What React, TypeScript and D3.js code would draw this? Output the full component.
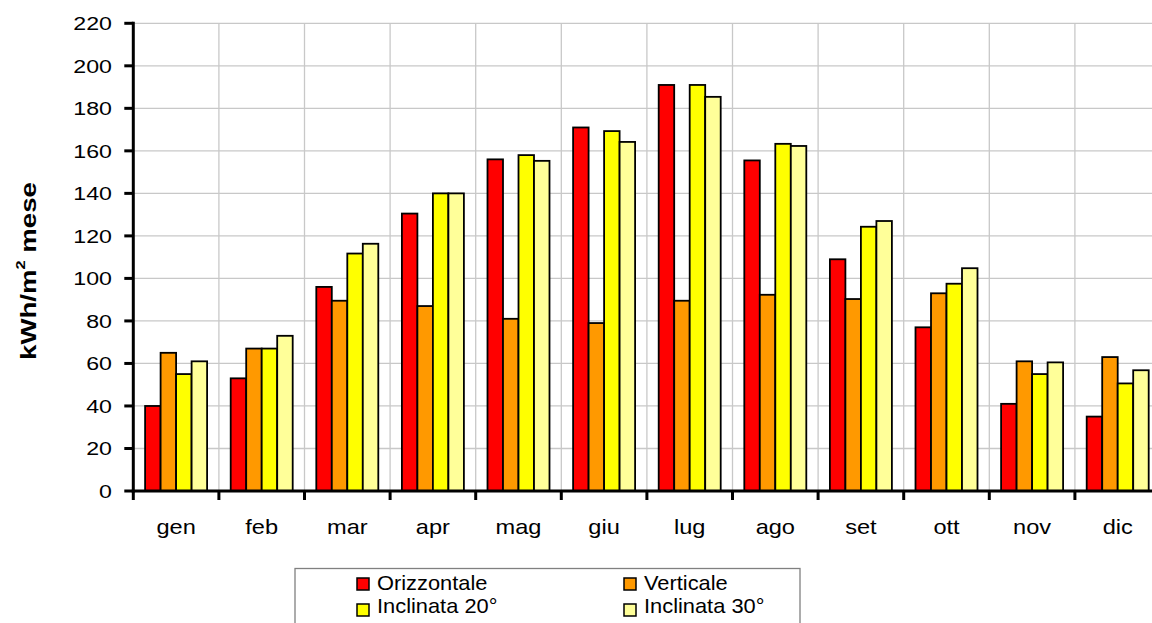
import React from "react";
import * as d3 from "d3";

const months = ["gen", "feb", "mar", "apr", "mag", "giu", "lug", "ago", "set", "ott", "nov", "dic"];
const seriesNames = ["Orizzontale", "Verticale", "Inclinata 20°", "Inclinata 30°"];
const seriesColors = ["#ff0000", "#ff9900", "#ffff00", "#ffff99"];
const orizzontale = [40, 53, 96, 130.5, 156, 171, 191, 155.5, 109, 77, 41, 35];
const verticale = [65, 67, 89.5, 87, 81, 79, 89.5, 92.3, 90.3, 93, 61, 63];
const inclinata20 = [55, 67, 111.7, 140, 158, 169.3, 191, 163.3, 124.3, 97.5, 55, 50.6];
const inclinata30 = [61, 73, 116.3, 140, 155.3, 164.2, 185.4, 162.3, 127, 104.8, 60.5, 56.8];
const yTicks = [0, 20, 40, 60, 80, 100, 120, 140, 160, 180, 200, 220];

const seriesValues = [orizzontale, verticale, inclinata20, inclinata30];

export default function App() {
  const W = 1152, H = 623;
  const left = 133.3, bandW = 85.6;
  const right = left + bandW * months.length;
  const top = 23.3, bottom = 491;
  const x = d3.scaleBand<string>().domain(months).range([left, right]).padding(0);
  const inner = d3.scaleBand<string>().domain(seriesNames).range([11.8, 73.8]).padding(0);
  const y = d3.scaleLinear().domain([0, 220]).range([bottom, top]);
  const font = "'Liberation Sans', Arial, sans-serif";

  return (
    <svg width={W} height={H} style={{ position: "absolute", left: 0, top: 0, background: "#fff" }}>
      <rect x={0} y={0} width={W} height={H} fill="#fff" />
      {/* grid */}
      {yTicks.filter(t => t > 0).map(t => (
        <line key={"gy" + t} x1={left} x2={right} y1={y(t)} y2={y(t)} stroke="#c8c8c8" strokeWidth={1.3} />
      ))}
      {months.slice(1).map(m => (
        <line key={"gx" + m} x1={x(m)!} x2={x(m)!} y1={top} y2={bottom} stroke="#c8c8c8" strokeWidth={1.3} />
      ))}
      {/* bars */}
      {months.map((m, i) => (
        <g key={m}>
          {seriesNames.map((s, k) => {
            const v = seriesValues[k][i];
            return (
              <rect key={s} x={x(m)! + inner(s)!} y={y(v)} width={inner.bandwidth()} height={bottom - y(v)}
                fill={seriesColors[k]} stroke="#000" strokeWidth={1.8} />
            );
          })}
        </g>
      ))}
      {/* axes */}
      <line x1={left} x2={left} y1={top - 1.5} y2={bottom + 1.5} stroke="#000" strokeWidth={3} />
      <line x1={left - 1.5} x2={right} y1={bottom} y2={bottom} stroke="#000" strokeWidth={3} />
      {yTicks.map(t => (
        <g key={"yt" + t}>
          <line x1={left - 9} x2={left} y1={y(t)} y2={y(t)} stroke="#000" strokeWidth={3} />
          <text transform={`translate(112,${y(t) + 7}) scale(1.22,1)`} textAnchor="end" fontFamily={font} fontSize={19} fill="#000">{t}</text>
        </g>
      ))}
      {months.map(m => (
        <line key={"xt" + m} x1={x(m)!} x2={x(m)!} y1={bottom} y2={bottom + 9} stroke="#000" strokeWidth={3} />
      ))}
      {months.map(m => (
        <text key={"xl" + m} transform={`translate(${x(m)! + x.bandwidth() / 2},534) scale(1.18,1)`} textAnchor="middle" fontFamily={font} fontSize={20} fill="#000">{m}</text>
      ))}
      {/* y label */}
      <text transform={`translate(36,271) rotate(-90) scale(1.255,1)`} textAnchor="middle" fontFamily={font} fontSize={22} fontWeight="bold" fill="#000">
        kWh/m<tspan fontSize={13} dy={-11}>2</tspan><tspan dy={11}> mese</tspan>
      </text>
      {/* legend */}
      <rect x={295} y={568.5} width={505} height={80} fill="#fff" stroke="#808080" strokeWidth={1.3} />
      {seriesNames.map((s, k) => {
        const col = k % 2, row = Math.floor(k / 2);
        const mx = col === 0 ? 357 : 624;
        const cy = row === 0 ? 584 : 610;
        const base = row === 0 ? 590 : 613;
        return (
          <g key={"lg" + s}>
            <rect x={mx} y={cy - 6} width={12} height={12} fill={seriesColors[k]} stroke="#000" strokeWidth={1.5} />
            <text transform={`translate(${mx + 20},${base}) scale(1.066,1)`} fontFamily={font} fontSize={20.5} fill="#000">{s}</text>
          </g>
        );
      })}
    </svg>
  );
}
